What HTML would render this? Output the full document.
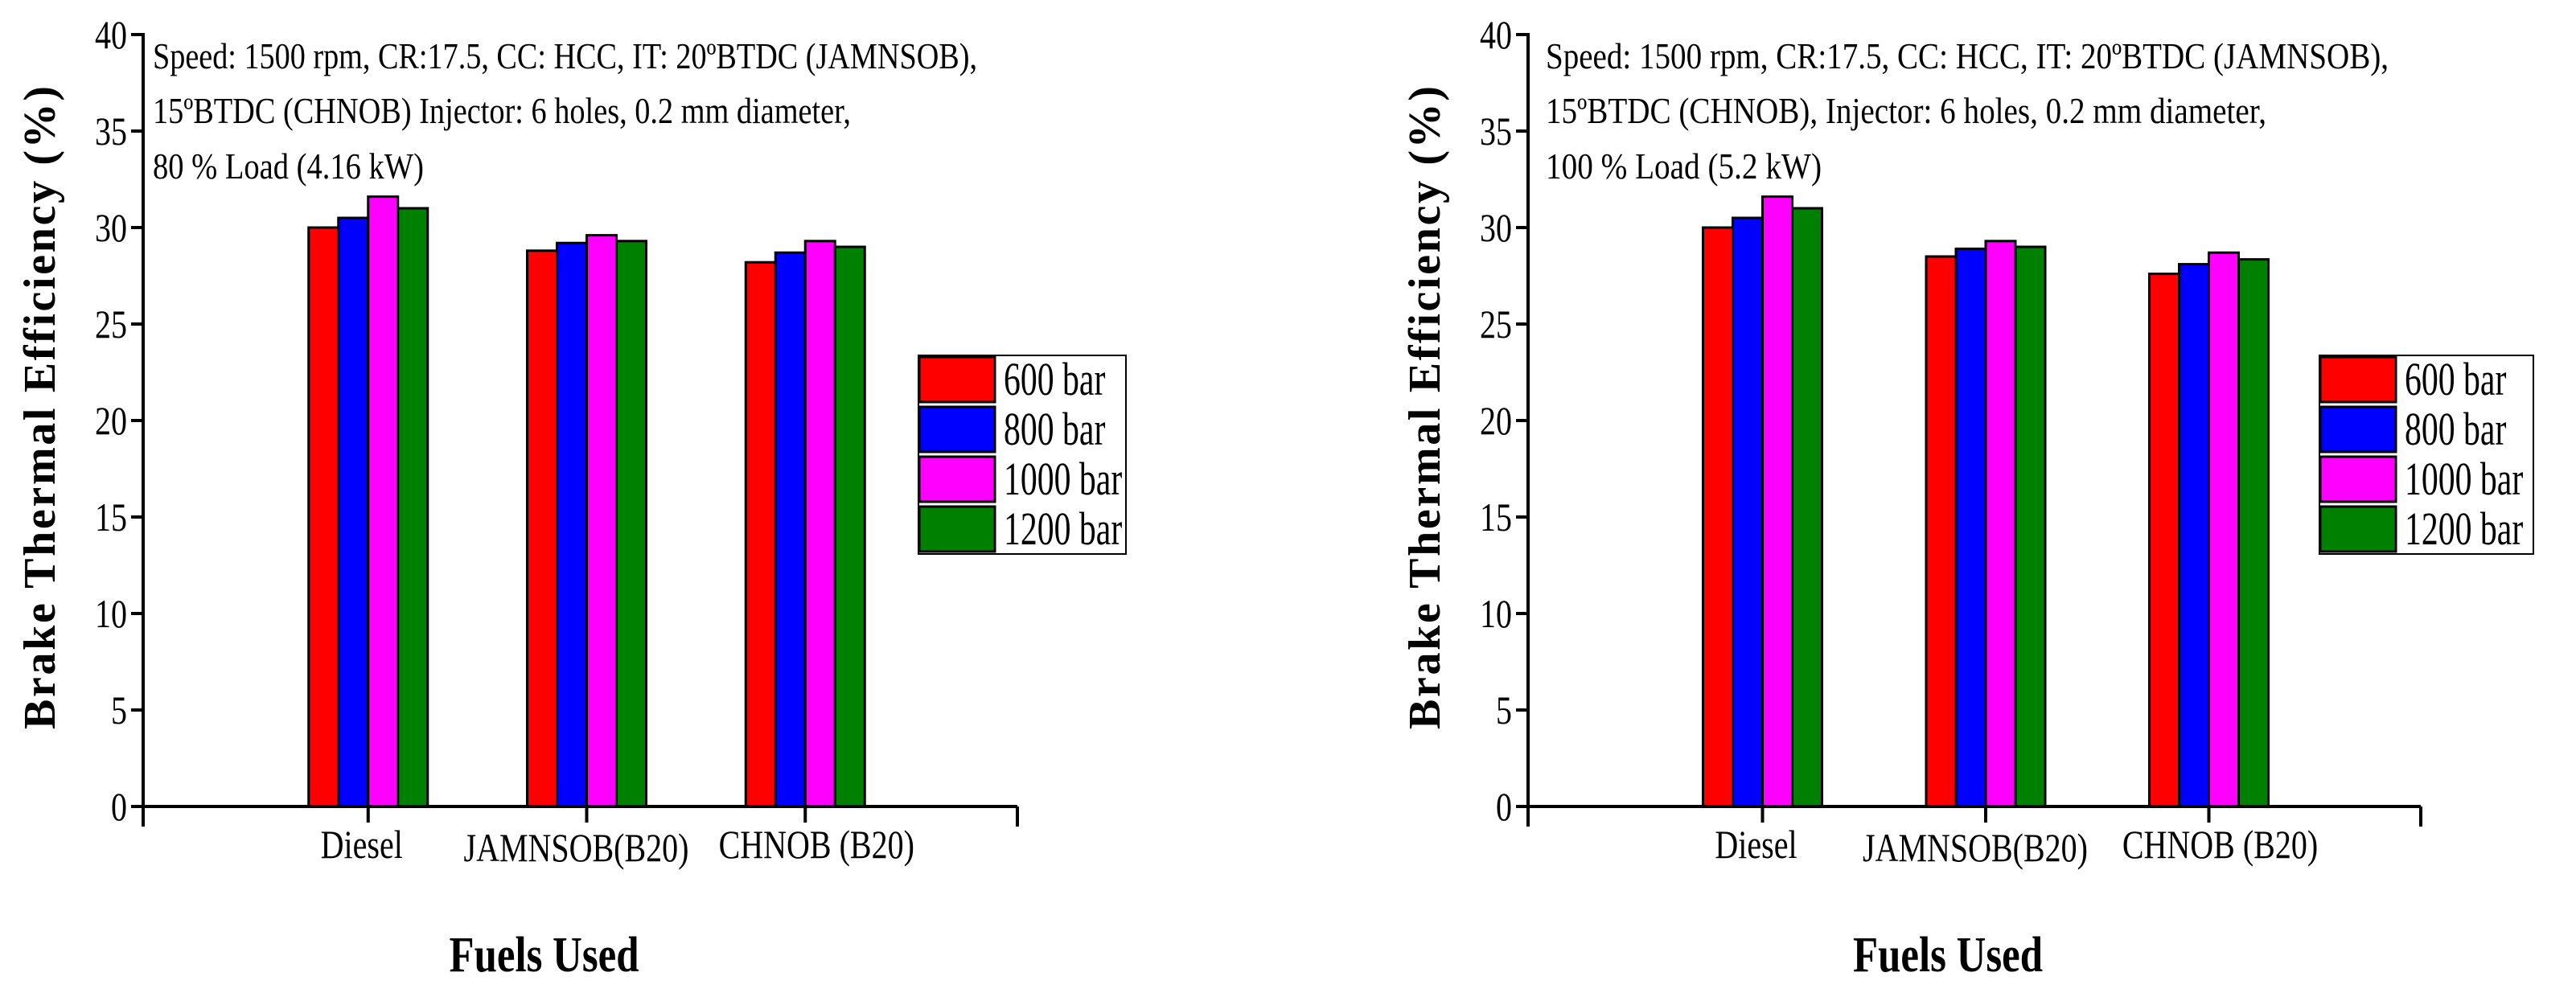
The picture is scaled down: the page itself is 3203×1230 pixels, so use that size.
<!DOCTYPE html>
<html><head><meta charset="utf-8"><style>html,body{margin:0;padding:0;background:#fff}svg{display:block}</style></head>
<body>
<svg id="chart" width="3203" height="1230" viewBox="0 0 3203 1230" xmlns="http://www.w3.org/2000/svg" font-family="'Liberation Serif', serif"></svg>
<script>
const categories = ["Diesel", "JAMNSOB(B20)", "CHNOB (B20)"];
const seriesNames = ["600 bar", "800 bar", "1000 bar", "1200 bar"];
const seriesColors = ["#ff0000", "#0000ff", "#ff00ff", "#008000"];
const leftValues600 = [30.0, 28.8, 28.2];
const leftValues800 = [30.5, 29.2, 28.7];
const leftValues1000 = [31.6, 29.6, 29.3];
const leftValues1200 = [31.0, 29.3, 29.0];
const rightValues600 = [30.0, 28.5, 27.6];
const rightValues800 = [30.5, 28.9, 28.1];
const rightValues1000 = [31.6, 29.3, 28.7];
const rightValues1200 = [31.0, 29.0, 28.35];
const yTicks = [0, 5, 10, 15, 20, 25, 30, 35, 40];
const leftNotes = ["Speed: 1500 rpm, CR:17.5, CC: HCC, IT: 20\u00BABTDC (JAMNSOB),", "15\u00BABTDC (CHNOB) Injector: 6 holes, 0.2 mm diameter,", "80 % Load (4.16 kW)"];
const rightNotes = ["Speed: 1500 rpm, CR:17.5, CC: HCC, IT: 20\u00BABTDC (JAMNSOB),", "15\u00BABTDC (CHNOB), Injector: 6 holes, 0.2 mm diameter,", "100 % Load (5.2 kW)"];

const NS = "http://www.w3.org/2000/svg";
const svg = document.getElementById("chart");
function mk(tag, attrs, parent) {
  const e = document.createElementNS(NS, tag);
  for (const k in attrs) e.setAttribute(k, attrs[k]);
  (parent || svg).appendChild(e);
  return e;
}
function txt(parent, x, y, s, size, anchor, weight, sx) {
  const t = mk("text", {transform: `translate(${x},${y}) scale(${sx || 0.75},1)`, "font-size": size, "text-anchor": anchor || "start", "font-weight": weight || "normal", fill: "#000"}, parent);
  t.textContent = s;
  return t;
}

function drawPanel(id, ox, notes, noteEnds, legendX, legendW, vals) {
  const g = mk("g", {});
  
  
  const x0 = ox, x1 = ox + (id === "left-panel" ? 1087 : 1110);
  const yTop = 43, yBot = 1003;
  const yScale = v => yBot - (v / 40) * (yBot - yTop);
  const catSpacing = (x1 - x0) / 4;
  const xCat = i => x0 + catSpacing * (i + 1) + (id === "left-panel" ? 8 : 14);
  const barW = 37;
  for (let s = 0; s < 4; s++) {
    for (let i = 0; i < categories.length; i++) {
      const v = vals[s][i];
      const bx = xCat(i) - 2 * barW + s * barW;
      const r = mk("rect", {x: bx, y: yScale(v), width: barW, height: yBot - yScale(v), fill: seriesColors[s], stroke: "#000", "stroke-width": 3}, g);
      
      
    }
  }
  const ya = mk("line", {x1: x0, y1: yTop - 2, x2: x0, y2: yBot + 25, stroke: "#000", "stroke-width": 4}, g);
  
  
  const xa = mk("line", {x1: x0, y1: yBot, x2: x1, y2: yBot, stroke: "#000", "stroke-width": 4}, g);
  
  
  mk("line", {x1: x1, y1: yBot, x2: x1, y2: yBot + 25, stroke: "#000", "stroke-width": 4}, g);
  for (const t of yTicks) {
    mk("line", {x1: x0 - 15, y1: yScale(t), x2: x0, y2: yScale(t), stroke: "#000", "stroke-width": 4}, g);
    const lb = txt(g, x0 - 20, yScale(t) + 17, String(t), 50, "end", "normal", 0.8);
    
    
  }
  const catDy = [64, 68, 64];
  for (let i = 0; i < categories.length; i++) {
    mk("line", {x1: xCat(i), y1: yBot, x2: xCat(i), y2: yBot + 20, stroke: "#000", "stroke-width": 4}, g);
    const cl = txt(g, xCat(i) - 8 + (i === 2 ? 22 : i === 1 ? -5 : 0), yBot + catDy[i], categories[i], 50, "middle", "normal", 0.8);
    
    
  }
  const yt = mk("text", {transform: `translate(${x0 - 110},${(yTop + yBot) / 2 - 16}) rotate(-90)`, "font-size": 56, "font-weight": "bold", "text-anchor": "middle", textLength: 800, lengthAdjust: "spacing"}, g);
  yt.textContent = "Brake Thermal Efficiency (%)";
  
  
  const xt = mk("text", {x: (x0 + x1) / 2 - 45 + (id === "left-panel" ? 0 : 12), y: 1208, "font-size": 62, "font-weight": "bold", "text-anchor": "middle", textLength: 236, lengthAdjust: "spacingAndGlyphs"}, g);
  xt.textContent = "Fuels Used";
  
  
  const nx = x0 + 12 + (id === "left-panel" ? 0 : 10);
  const nys = [85, 153, 222];
  for (let k = 0; k < notes.length; k++) {
    const n = mk("text", {x: nx, y: nys[k], "font-size": 46, textLength: noteEnds[k] - nx, lengthAdjust: "spacingAndGlyphs"}, g);
    n.textContent = notes[k];
    
    
  }
  const lg = mk("g", {}, g);
  
  
  const cp = mk("clipPath", {id: id + "-clip"}, lg);
  mk("rect", {x: legendX, y: 442, width: legendW, height: 247}, cp);
  mk("rect", {x: legendX, y: 442, width: legendW, height: 247, fill: "#fff", stroke: "#000", "stroke-width": 2}, lg);
  const inner = mk("g", {"clip-path": `url(#${id}-clip)`}, lg);
  for (let s = 0; s < 4; s++) {
    const ey = 443 + s * 62;
    const sw = mk("rect", {x: legendX + 1, y: ey + 1, width: 94, height: 56, fill: seriesColors[s], stroke: "#000", "stroke-width": 3}, inner);
    
    
    const lt = txt(inner, legendX + 106, ey + 48, seriesNames[s], 58, "start", "normal", 0.72);
    
    
  }
}
drawPanel("left-panel", 178, leftNotes, [1215, 1058, 527], 1142, 258,
  [leftValues600, leftValues800, leftValues1000, leftValues1200]);
drawPanel("right-panel", 1900, rightNotes, [2970, 2818, 2265], 2884, 266,
  [rightValues600, rightValues800, rightValues1000, rightValues1200]);
</script>
</body></html>
